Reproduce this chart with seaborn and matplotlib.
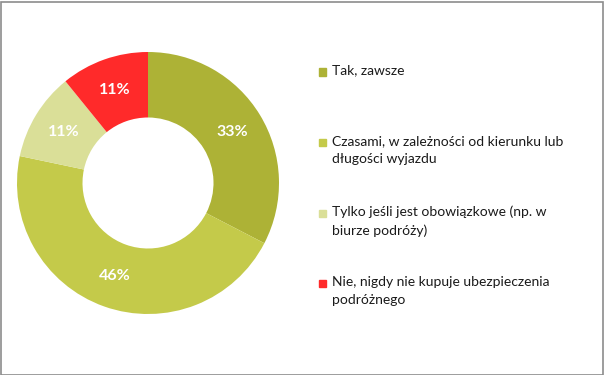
import matplotlib
matplotlib.use('Agg')
import matplotlib.pyplot as plt
import matplotlib.patches as mpatches
import seaborn as sns

# data
categories = ['Tak, zawsze',
              'Czasami, w zależności od kierunku lub\ndługości wyjazdu',
              'Tylko jeśli jest obowiązkowe (np. w\nbiurze podróży)',
              'Nie, nigdy nie kupuje ubezpieczenia\npodróżnego']
shares = [32.6, 45.7, 10.85, 10.85]
colors = ['#adb236', '#c4ca4a', '#dadf98', '#ff2a2a']

sns.set_theme(style='white')
plt.rcParams['font.family'] = ['Lato', 'DejaVu Sans']

fig = plt.figure(figsize=(6.04, 3.75), dpi=100)
ax = fig.add_axes([17/604, 1 - 314/375, 262/604, 262/375])

wedges, texts, autotexts = ax.pie(
    shares, colors=colors, startangle=90, counterclock=False,
    wedgeprops=dict(width=0.5, edgecolor='none'),
    autopct=lambda p: f"{p:.0f}%", pctdistance=0.75,
    textprops=dict(color='white', fontsize=11.5, fontweight='bold'))
ax.set_aspect('equal')
ax.set_xlim(-1, 1)
ax.set_ylim(-1, 1)

# legend drawn by hand so the marker sits on the first line
y0 = 375 - 72
for i, (lab, col) in enumerate(zip(categories, colors)):
    y = y0 - i * 70.5
    fig.patches.append(mpatches.Rectangle((319/604, (y - 3.5)/375), 7/604, 7/375,
                                          transform=fig.transFigure, color=col))
    fig.text(332/604, (y + 7.5)/375, lab, fontsize=10, color='#1a1a1a',
             va='top', ha='left', linespacing=1.6)

# outer frame
fig.patches.append(mpatches.Rectangle((0.5/604, 0.5/375), 602/604, 373/375, fill=False,
                                      edgecolor='#8c8c8c', linewidth=1.2,
                                      transform=fig.transFigure))

fig.savefig('out.png', dpi=100, facecolor='white')
